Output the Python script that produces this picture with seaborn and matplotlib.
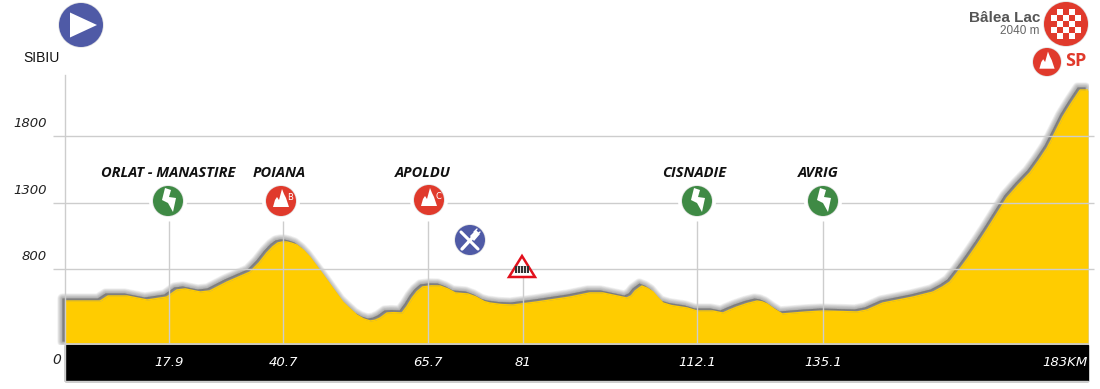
# Stage profile Sibiu - Balea Lac

import seaborn as sns
import matplotlib.pyplot as plt
import matplotlib.transforms as mtrans
from matplotlib.patches import Circle, Polygon, Rectangle

# profile
km = [0, 6.3, 7.7, 11.1, 14.7, 18.2, 20.0, 21.5, 24.2, 25.9, 29.0, 33.1, 34.7, 36.1, 37.2, 38.1,
      38.9, 39.7, 40.5, 41.5, 42.7, 43.8, 46.2, 49.7, 51.0, 52.2, 53.4, 54.6, 55.5, 56.4, 57.6,
      58.8, 60.3, 61.2, 62.1, 63.0, 64.0, 65.5, 67.1, 68.5, 69.8, 72.1, 73.5, 75.0,
      76.0, 78.0, 80.1, 84.4, 90.3, 93.9, 96.2, 100.5, 101.3, 102.0, 103.2, 104.2, 105.2, 106.1,
      107.0, 108.5, 111.3, 113.1, 115.9, 117.7, 118.8, 120.2, 122.0, 123.8, 124.7, 125.6, 127.0,
      128.3, 132.7, 135.6, 141.7, 143.5, 146.3, 151.7, 155.3, 157.0,
      158.3, 159.7, 161.5, 163.3, 164.9, 168.5, 170.5, 172.6, 174.2, 175.7, 177.1, 178.5, 180.0,
      181.6, 183]
elevation = [559, 559, 597, 597, 567, 589, 642, 650, 627, 635, 702, 777, 845, 920, 968, 996,
             1003, 1003, 995, 980, 940, 890, 755, 552, 500, 454, 425, 409, 415, 432, 469,
             472, 469, 520, 582, 630, 665, 673, 672, 650, 620, 612, 590, 555,
             544, 533, 529, 552, 589, 620, 620, 582, 598, 635, 672, 655, 627, 583,
             544, 525, 507, 484, 484, 469, 490, 514, 540, 559, 553, 537, 495,
             462, 477, 484, 477, 492, 544, 589, 627, 665,
             702, 777, 880, 990, 1093, 1334, 1430, 1522, 1615, 1710, 1825, 1943, 2045,
             2146, 2146]

# the km marks are not to scale in the original, so place and label are separate
tick_pos = [18.6, 39.0, 64.9, 81.9, 113.1, 135.6, 183]
tick_labels = ['17.9', '40.7', '65.7', '81', '112.1', '135.1', '183KM']
stem_pos = [18.6, 39.0, 64.9, 81.9, 113.1, 135.6]
stem_top = [1160, 1160, 1160, 740, 1160, 1160]
ele_ticks = [800, 1300, 1800]
stop_names = ['ORLAT - MANASTIRE', 'POIANA', 'APOLDU', 'CISNADIE', 'AVRIG']
stop_name_x = [168.5, 279, 423, 694, 818]

YELLOW = '#ffcc00'
GRID = '#cdcdcd'
GREEN = '#3f8a45'
RED = '#e03a2c'
BLUE = '#4f5aa6'

sns.set_theme(style='white')
plt.rcParams['font.family'] = ['Open Sans', 'DejaVu Sans']

fig = plt.figure(figsize=(11, 3.89), dpi=100)
ax = fig.add_axes([65 / 1100, 45 / 389, 1023 / 1100, 269 / 389])

# blurry shadow up and to the left of the profile
shadow_tr = ax.transData + mtrans.ScaledTranslation(-3 / 100, 3 / 100, fig.dpi_scale_trans)
shadow_clip = Rectangle((-10, 236), 193, 3000, transform=ax.transData)
for lw in [7.5, 6.5, 5.5, 4.5, 3.5, 2.5, 1.5, 0.5]:
    sh = ax.fill_between(km, 236, elevation, color='#444444', alpha=0.07, lw=lw,
                         zorder=0.5, transform=shadow_tr)
    sh.set_clip_path(shadow_clip)

ax.fill_between(km, 236, elevation, color=YELLOW, lw=0, zorder=1)
sns.lineplot(x=km, y=elevation, color=YELLOW, lw=1, errorbar=None, ax=ax, zorder=1)

ax.set_xlim(0, 183)
ax.set_ylim(236, 2259)
ax.set_xlabel('')
ax.set_ylabel('')

# black band under the profile
ax.add_patch(Rectangle((0, -37 / 269), 1, 36 / 269, transform=ax.transAxes, color='black',
                       clip_on=False, zorder=1.5))
ax.hlines(ele_ticks, -2.2, 184, color=GRID, lw=1, clip_on=False, zorder=2)
ax.vlines(stem_pos, 236, stem_top, color=GRID, lw=1, zorder=2)

ax.set_axisbelow(False)
ax.set_xticks(tick_pos, tick_labels)
ax.tick_params(axis='x', length=3, color=GRID, width=1, pad=5.5, labelcolor='white')
ax.set_yticks([])
for t, lab in zip(tick_pos, ax.get_xticklabels()):
    lab.set_style('italic')
    lab.set_family(['DejaVu Sans'])
    lab.set_fontsize(9.5)
    if t == 183:
        lab.set_ha('right')

ax.annotate('0', (0, 236), xytext=(-3, -11.5), textcoords='offset points', ha='right',
            va='center', fontsize=10, style='italic', color='#222222',
            family=['DejaVu Sans'], annotation_clip=False)
for v in ele_ticks:
    ax.annotate(str(v), (0, v), xytext=(-13, 4), textcoords='offset points', ha='right',
                va='bottom', fontsize=9.5, style='italic', color='#222222',
                family=['DejaVu Sans'], annotation_clip=False)

sns.despine(ax=ax, top=True, right=True)
ax.spines['left'].set_color(GRID)
ax.spines['left'].set_linewidth(1)
ax.spines['bottom'].set_color(GRID)
ax.plot([0, 0], [0, -37 / 269], color=GRID, lw=1, clip_on=False, transform=ax.transAxes)
ax.plot([0, 1], [-37 / 269, -37 / 269], color=GRID, lw=1, clip_on=False, transform=ax.transAxes)

# icons and labels go on an overlay counted in pixels
ov = fig.add_axes([0, 0, 1, 1], facecolor='none')
ov.set_xlim(0, 1100)
ov.set_ylim(389, 0)
ov.axis('off')


def disc(x, y, r, color):
    ov.add_patch(Circle((x, y), r + 4, color='white', lw=0))
    ov.add_patch(Circle((x, y), r + 0.8, color='#e4e4e4', lw=0))
    ov.add_patch(Circle((x, y), r, color=color, lw=0))


def glyph(x, y, pts, scale=1.0, color='white'):
    ov.add_patch(Polygon([(x + a * scale, y + b * scale) for a, b in pts], closed=True,
                         color=color, lw=0))


BOLT = [(-3, -13), (3, -11), (1, -4), (8, -3), (5, 11), (0, 2), (-6, -1)]
MOUNT = [(-8, 6), (-6, -1), (-4, -4), (-2, -1), (1, -12), (3, -7), (5, -3), (8, 6)]


def bolt_icon(x, y):
    disc(x, y, 15, GREEN)
    glyph(x, y, BOLT)


def mount_icon(x, y, letter):
    disc(x, y, 15, RED)
    glyph(x, y, MOUNT)
    ov.text(x + 9, y - 4, letter, color='white', fontsize=6, ha='center', va='center',
            family=['DejaVu Sans'])


bolt_icon(168, 201)
mount_icon(281, 201, 'B')
mount_icon(429, 200, 'C')
bolt_icon(697, 201)
bolt_icon(823, 201)

# start
disc(81, 25, 22, BLUE)
glyph(81, 25, [(-11, -12.5), (16, 0), (-11, 12.5)])

# finish
disc(1066, 24, 22, RED)
for row in range(5):
    for col in range(5):
        if (row + col) % 2:
            ov.add_patch(Rectangle((1051 + col * 6, 9 + row * 6), 6, 6, color='white', lw=0))

# SP
disc(1047, 62, 14, RED)
glyph(1047, 63, MOUNT, 0.95)
ov.text(1075.5, 61, 'SP', color=RED, fontsize=13, fontweight='bold', ha='center', va='center')

# feed zone
disc(470, 240, 15, BLUE)
ov.plot([461, 478], [232, 249], color='white', lw=2.2, solid_capstyle='round')
ov.plot([462, 474], [249, 236], color='white', lw=2.4, solid_capstyle='round')
ov.add_patch(Polygon([(470, 236), (476, 230), (480, 234), (474, 241)], closed=True, color='white', lw=0))
ov.plot([474, 477], [232, 229], color='white', lw=1)
ov.plot([476, 480], [235, 232], color='white', lw=1)

# level crossing
ov.add_patch(Polygon([(522, 256), (509, 277), (535, 277)], closed=True, facecolor='white',
                     edgecolor='#e2101c', lw=1.8, joinstyle='miter'))
ov.add_patch(Rectangle((515, 266), 14, 7, color='#333333', lw=0))
for xb in [517, 520, 523, 526]:
    ov.plot([xb, xb], [266, 273], color='white', lw=0.6)

for name, x in zip(stop_names, stop_name_x):
    ov.text(x, 172.5, name, fontsize=10.5, fontweight='bold', style='italic', color='#111111',
            ha='center', va='center')

ov.text(42, 58, 'SIBIU', fontsize=10, ha='center', va='center', color='#111111',
        family=['Liberation Sans'])
ov.text(1040, 18, 'Bâlea Lac', fontsize=11, ha='right', va='center', color='#555555',
        family=['Liberation Sans'], fontweight='bold')
ov.text(1040, 31, '2040 m', fontsize=8.5, ha='right', va='center', color='#666666',
        family=['Liberation Sans'])

fig.savefig('out.png', dpi=100)
